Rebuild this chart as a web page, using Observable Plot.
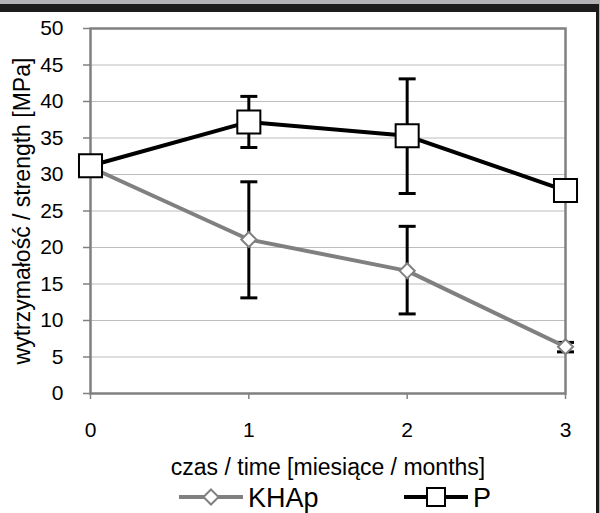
<!DOCTYPE html>
<html>
<head>
<meta charset="utf-8">
<script src="https://cdn.jsdelivr.net/npm/d3@7"></script>
<script src="https://cdn.jsdelivr.net/npm/@observablehq/plot@0.6"></script>
<style>
  html, body { margin: 0; padding: 0; background: #fff; }
  #page { position: relative; width: 600px; height: 513px; overflow: hidden; background: #fff;
          font-family: "Liberation Sans", Arial, sans-serif; }
  #bar1 { position: absolute; left: 0; top: 0; width: 600px; height: 4px; background: #b3b3b5; }
  #bar2 { position: absolute; left: 0; top: 4px; width: 600px; height: 8px; background: #1c1c1c; }
  #rborder { position: absolute; left: 596px; top: 4px; width: 3px; height: 509px; background: #1c1c1c; }
  #rborder2 { position: absolute; left: 599px; top: 0; width: 1px; height: 513px; background: #b3b3b5; }
  #chart { position: absolute; left: 0; top: 12px; }
  #legend { position: absolute; left: 0; top: 476px; }
</style>
</head>
<body>
<div id="page">
  <div id="bar1"></div><div id="bar2"></div>
  <div id="chart"></div>
  <div id="legend"></div>
  <div id="rborder"></div><div id="rborder2"></div>
</div>
<script>
const months = [0, 1, 2, 3];
const seriesNames = ["KHAp", "P"];
const khap = [31.0, 21.1, 16.8, 6.4];
const khapLo = [null, 13.1, 10.9, 5.7];
const khapHi = [null, 29.0, 22.9, 7.0];
const pVals = [31.2, 37.2, 35.3, 27.8];
const pLo = [null, 33.7, 27.4, null];
const pHi = [null, 40.7, 43.1, null];
const yTicks = [0, 5, 10, 15, 20, 25, 30, 35, 40, 45, 50];
const xTicks = [0, 1, 2, 3];
const xLabel = "czas / time [miesiące / months]";
const yLabel = "wytrzymałość / strength [MPa]";

const GRAY = "#808080";
const mk = (vals, lo, hi) => months.map((m, i) => ({x: m, y: vals[i], lo: lo[i], hi: hi[i]}));
const kData = mk(khap, khapLo, khapHi);
const pData = mk(pVals, pLo, pHi);
const kErr = kData.filter(d => d.lo != null);
const pErr = pData.filter(d => d.lo != null);

const capSymbol = {
  draw(ctx, size) {
    const w = Math.sqrt(size / Math.PI);
    ctx.moveTo(-w, 0); ctx.lineTo(w, 0);
  }
};

function errMarks(data) {
  return [
    Plot.ruleX(data, {x: "x", y1: "lo", y2: "hi", stroke: "#000", strokeWidth: 3}),
    Plot.dot(data, {x: "x", y: "lo", symbol: capSymbol, r: 8.5, stroke: "#000", strokeWidth: 3, fill: "none"}),
    Plot.dot(data, {x: "x", y: "hi", symbol: capSymbol, r: 8.5, stroke: "#000", strokeWidth: 3, fill: "none"})
  ];
}

const chart = Plot.plot({
  width: 596,
  height: 466,
  marginLeft: 90,
  marginRight: 31,
  marginTop: 16,
  marginBottom: 85,
  style: {fontFamily: "'Liberation Sans', Arial, sans-serif", fontSize: "21px", color: "#000", background: "transparent", overflow: "visible"},
  x: {domain: [0, 3]},
  y: {domain: [0, 50]},
  marks: [
    Plot.gridY(yTicks, {stroke: "#bdbdbd", strokeOpacity: 1, strokeWidth: 1}),
    Plot.frame({stroke: GRAY, strokeWidth: 2.5}),
    Plot.axisY({ticks: yTicks, tickSize: 7, tickPadding: 20, stroke: GRAY, strokeWidth: 1.5, label: null}),
    Plot.axisX({ticks: xTicks, tickSize: 6, tickPadding: 23, stroke: GRAY, strokeWidth: 1.5, tickFormat: d => String(d), label: null}),
    Plot.text([xLabel], {frameAnchor: "bottom", dy: 74, fontSize: 23, lineAnchor: "middle", fill: "#000"}),
    Plot.text([yLabel], {frameAnchor: "left", dx: -68, rotate: -90, fontSize: 23, textAnchor: "middle", lineAnchor: "middle", fill: "#000"}),
    ...errMarks(kErr),
    Plot.line(kData, {x: "x", y: "y", stroke: GRAY, strokeWidth: 4}),
    Plot.dot(kData, {x: "x", y: "y", symbol: "diamond2", r: 6.8, stroke: GRAY, strokeWidth: 2, fill: "#fff"}),
    ...errMarks(pErr),
    Plot.line(pData, {x: "x", y: "y", stroke: "#000", strokeWidth: 4}),
    Plot.dot(pData, {x: "x", y: "y", symbol: "square", r: 13, stroke: "#000", strokeWidth: 2, fill: "#fff"})
  ]
});
document.getElementById("chart").appendChild(chart);

// Legend
const legend = d3.create("svg").attr("width", 596).attr("height", 37)
  .style("font-family", "'Liberation Sans', Arial, sans-serif").style("overflow", "visible");
const items = [
  {name: seriesNames[0], color: GRAY, sym: "diamond", x0: 179},
  {name: seriesNames[1], color: "#000", sym: "square", x0: 404}
];
const cy = 21;
for (const it of items) {
  const g = legend.append("g");
  g.append("line").attr("x1", it.x0).attr("x2", it.x0 + 64).attr("y1", cy).attr("y2", cy)
    .attr("stroke", it.color).attr("stroke-width", 4);
  const cx = it.x0 + 32;
  if (it.sym === "diamond") {
    g.append("path").attr("d", d3.symbol(d3.symbolDiamond2, Math.PI * 6.8 * 6.8)())
      .attr("transform", `translate(${cx},${cy})`).attr("fill", "#fff").attr("stroke", it.color).attr("stroke-width", 2);
  } else {
    g.append("rect").attr("x", cx - 9).attr("y", cy - 9).attr("width", 18).attr("height", 18)
      .attr("fill", "#fff").attr("stroke", "#000").attr("stroke-width", 2);
  }
  g.append("text").attr("x", it.x0 + 69).attr("y", cy + 9.5).attr("font-size", 27).attr("fill", "#000").text(it.name);
}
document.getElementById("legend").appendChild(legend.node());
</script>
</body>
</html>
